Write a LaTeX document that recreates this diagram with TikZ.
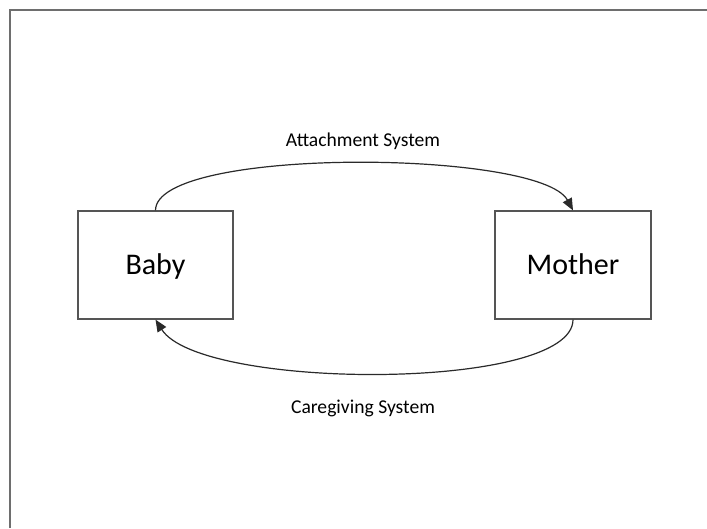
\documentclass[tikz,border=0pt]{standalone}
\usepackage{fontspec}
\setmainfont{Carlito}
\usetikzlibrary{arrows.meta}
\definecolor{framegray}{HTML}{6E6E6E}
\definecolor{boxgray}{HTML}{555555}
\definecolor{linegray}{HTML}{2A2A2A}
\tikzset{
  agent/.style={draw=boxgray, line width=1.2pt, minimum width=155pt, minimum height=108pt,
    inner sep=0pt, text height=25pt, text depth=7pt, font=\fontsize{30}{36}\selectfont},
  system/.style={draw=linegray, line width=1.2pt, -{Triangle[length=12pt,width=10pt]}},
  syslabel/.style={font=\fontsize{19.6}{24}\selectfont, inner sep=0pt}
}
\begin{document}
\begin{tikzpicture}[x=1pt, y=-1pt]
  \useasboundingbox (0,0) rectangle (707,528);
  % outer frame
  \draw[framegray, line width=2pt] (10,528) |- (707,10);
  % the two parties
  \node[agent] (baby) at (155.5,265) {Baby};
  \node[agent, minimum width=156pt] (mother) at (573,265) {Mother};
  % the two behavioural systems
  \draw[system] (baby.north) .. controls +(0,-64) and +(-33,-61) .. (mother.north);
  \draw[system] (mother.south) .. controls +(0,72) and +(45,71) .. (baby.south);
  \node[syslabel] (attach) at (363,141) {Attachment System};
  \node[syslabel] (care) at (363,408) {Caregiving System};
\end{tikzpicture}
\end{document}
